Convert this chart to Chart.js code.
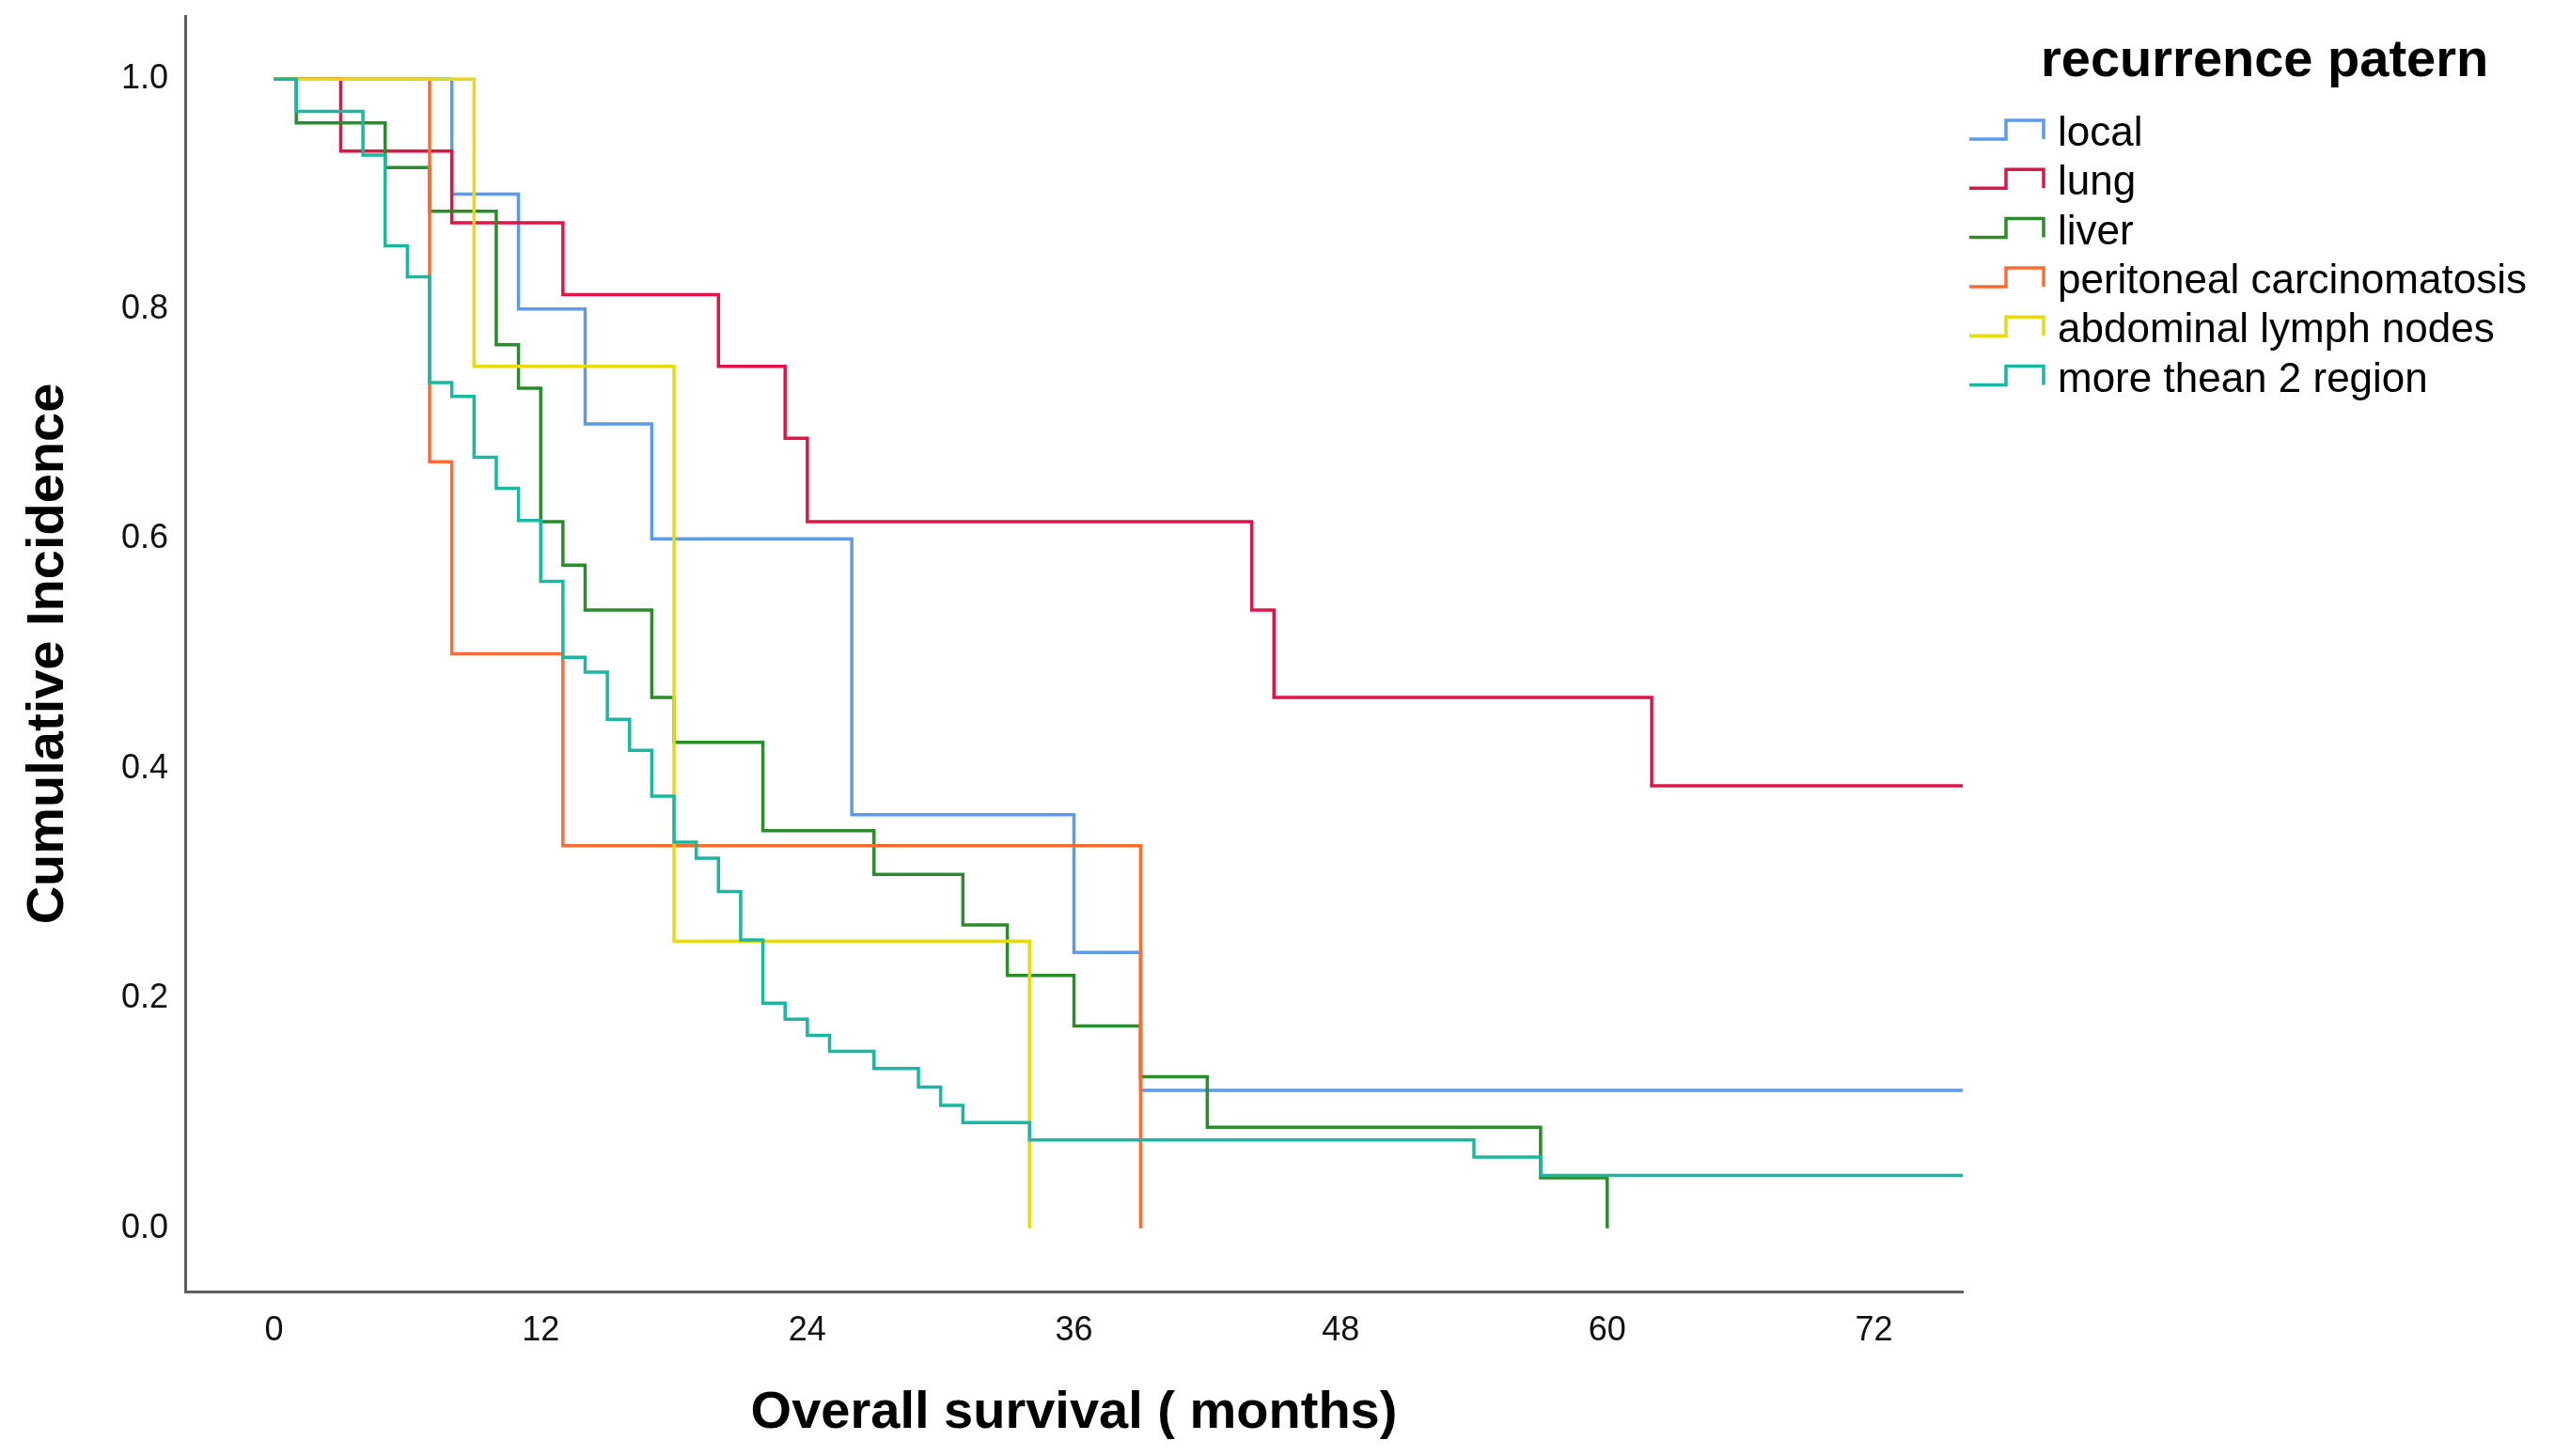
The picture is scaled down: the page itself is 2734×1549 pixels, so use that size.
<!DOCTYPE html>
<html lang="en">
<head>
<meta charset="UTF-8">
<title>Cumulative Incidence by recurrence patern</title>
<style>
  body { margin: 0; padding: 0; background: #ffffff; }
  #wrap { width: 2734px; height: 1549px; position: relative; }
</style>
</head>
<body>
<div id="wrap"><canvas id="kmChart"></canvas></div>

<script src="https://cdn.jsdelivr.net/npm/chart.js"></script>
<script>
// step times (months) and curve value after each step
const localTimes = [0, 8, 11, 14, 17, 26, 36, 39, 76];
const localValues = [1, 0.9, 0.8, 0.7, 0.6, 0.36, 0.24, 0.12, 0.12];

const lungTimes = [0, 3, 8, 13, 20, 23, 24, 44, 45, 62, 76];
const lungValues = [1, 0.9375, 0.875, 0.8125, 0.75, 0.6875, 0.615, 0.538, 0.462, 0.385, 0.385];

const liverTimes = [0, 1, 5, 7, 10, 11, 12, 13, 14, 17, 18, 22, 27, 31, 33, 36, 39, 42, 57, 60];
const liverValues = [1, 0.962, 0.923, 0.885, 0.769, 0.731, 0.615, 0.577, 0.538, 0.462, 0.423, 0.346, 0.308, 0.264, 0.220, 0.176, 0.132, 0.088, 0.044, 0];

const peritonealTimes = [0, 7, 8, 13, 39];
const peritonealValues = [1, 0.667, 0.5, 0.333, 0];

const lymphTimes = [0, 9, 18, 34];
const lymphValues = [1, 0.75, 0.25, 0];

const multiTimes = [0, 1, 4, 5, 6, 7, 8, 9, 10, 11, 12, 13, 14, 15, 16, 17, 18, 19, 20, 21, 22, 23, 24, 25, 27, 29, 30, 31, 34, 54, 57, 76];
const multiValues = [1, 0.972, 0.934, 0.855, 0.828, 0.736, 0.724, 0.671, 0.644, 0.616, 0.563, 0.497, 0.484, 0.443, 0.416, 0.376, 0.336, 0.322, 0.293, 0.251, 0.196, 0.182, 0.168, 0.154, 0.139, 0.123, 0.107, 0.092, 0.077, 0.062, 0.046, 0.046];

const groupNames = ['local', 'lung', 'liver', 'peritoneal carcinomatosis', 'abdominal lymph nodes', 'more thean 2 region'];
const groupColors = ['#5b9bea', '#de1548', '#2a8c2a', '#ff6b35', '#e6da12', '#1ab8a0'];

const xTickValues = [0, 12, 24, 36, 48, 60, 72];
const yTickValues = [0, 0.2, 0.4, 0.6, 0.8, 1.0];

const FONT = '"Liberation Sans", Arial, sans-serif';

function toPoints(times, values) {
    return times.map((t, i) => ({ x: t, y: values[i] }));
}

const series = [
    [localTimes, localValues],
    [lungTimes, lungValues],
    [liverTimes, liverValues],
    [peritonealTimes, peritonealValues],
    [lymphTimes, lymphValues],
    [multiTimes, multiValues]
];

// legend with little step symbols, drawn right of the plot
const stepLegend = {
    id: 'stepLegend',
    afterDraw(chart) {
        const ctx = chart.ctx;
        const x0 = chart.chartArea.right + 7;
        ctx.save();
        ctx.fillStyle = '#000';
        ctx.textBaseline = 'alphabetic';
        ctx.font = 'bold 56px ' + FONT;
        ctx.fillText('recurrence patern', x0 + 76, 81);
        chart.data.datasets.forEach((ds, i) => {
            const cy = 138 + i * 52.3;
            ctx.strokeStyle = ds.borderColor;
            ctx.lineWidth = 3.5;
            ctx.beginPath();
            ctx.moveTo(x0, cy + 10);
            ctx.lineTo(x0 + 39, cy + 10);
            ctx.lineTo(x0 + 39, cy - 10);
            ctx.lineTo(x0 + 79, cy - 10);
            ctx.lineTo(x0 + 79, cy + 10);
            ctx.stroke();
            ctx.font = '44px ' + FONT;
            ctx.fillStyle = '#000';
            ctx.fillText(ds.label, x0 + 94, cy + 17);
        });
        ctx.restore();
    }
};

const ctx = document.getElementById('kmChart').getContext('2d');
new Chart(ctx, {
    type: 'line',
    data: {
        datasets: series.map((s, i) => ({
            label: groupNames[i],
            data: toPoints(s[0], s[1]),
            borderColor: groupColors[i],
            backgroundColor: groupColors[i],
            borderWidth: 3.5,
            pointRadius: 0,
            stepped: 'before',
            fill: false,
            order: series.length - i
        }))
    },
    options: {
        responsive: true,
        maintainAspectRatio: false,
        animation: false,
        layout: { padding: { top: 17, right: 646, bottom: 0, left: 0 } },
        plugins: {
            legend: { display: false },
            tooltip: { enabled: false }
        },
        scales: {
            x: {
                type: 'linear',
                min: -4,
                max: 76,
                afterBuildTicks: (scale) => { scale.ticks = xTickValues.map(v => ({ value: v })); },
                afterFit: (scale) => { scale.height = 175; scale.paddingLeft = 0; scale.paddingRight = 0; },
                grid: { display: false, drawTicks: false },
                border: { display: true, color: '#5f5f5f', width: 3 },
                ticks: {
                    padding: 20,
                    color: '#111',
                    font: { family: FONT, size: 36 },
                    maxRotation: 0
                },
                title: {
                    display: true,
                    text: 'Overall survival ( months)',
                    color: '#000',
                    font: { family: FONT, size: 56, weight: 'bold', lineHeight: 1.2 },
                    padding: { top: 0, bottom: 12 }
                }
            },
            y: {
                type: 'linear',
                min: -0.055,
                max: 1.055,
                afterBuildTicks: (scale) => { scale.ticks = yTickValues.map(v => ({ value: v })); },
                afterFit: (scale) => { scale.width = 197; scale.paddingTop = 0; scale.paddingBottom = 0; },
                grid: { display: false, drawTicks: false },
                border: { display: true, color: '#5f5f5f', width: 3 },
                ticks: {
                    padding: 18,
                    color: '#111',
                    font: { family: FONT, size: 36 },
                    callback: (v) => Number(v).toFixed(1)
                },
                title: {
                    display: true,
                    text: 'Cumulative Incidence',
                    color: '#000',
                    font: { family: FONT, size: 56, weight: 'bold', lineHeight: 1.2 },
                    padding: { top: 18, bottom: 0 }
                }
            }
        }
    },
    plugins: [stepLegend]
});
</script>
</body>
</html>
